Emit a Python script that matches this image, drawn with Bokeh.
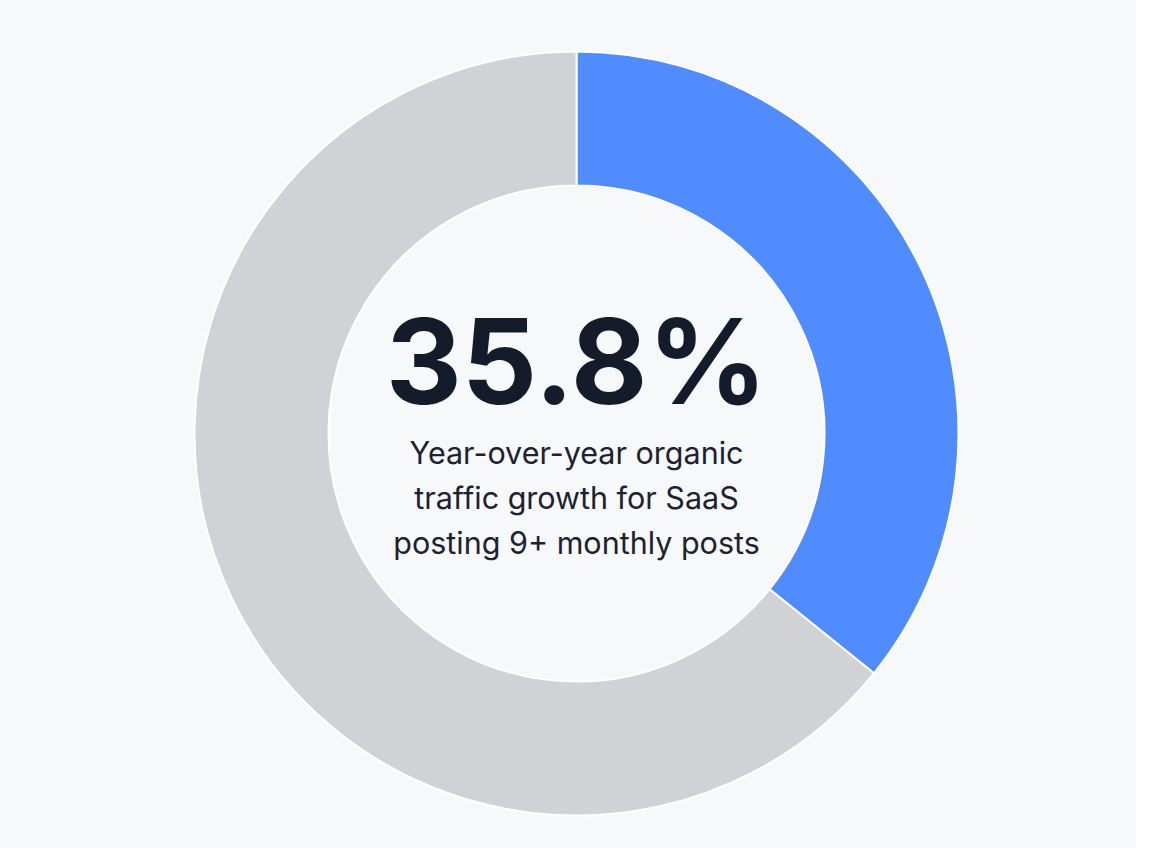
import math
from bokeh.plotting import figure
from bokeh.models import ColumnDataSource, Range1d
from bokeh.core.properties import value
from bokeh.embed import file_html
from bokeh.resources import INLINE

# Data
labels = ["SaaS posting 9+ monthly posts", "Remainder"]
values = [35.8, 64.2]
colors = ["#518cff", "#d1d2d6"]
headline = "35.8%"
caption_lines = ["Year-over-year organic", "traffic growth for SaaS", "posting 9+ monthly posts"]

W, H = 1136, 848
BG = "#f7f8fa"

total = sum(values)
starts, ends = [], []
acc = 0.0
for v in values:
    starts.append(math.pi / 2 - 2 * math.pi * acc / total)
    acc += v
    ends.append(math.pi / 2 - 2 * math.pi * acc / total)

cx, cy = 576, H - 433
src = ColumnDataSource(dict(x=[cx] * len(values), y=[cy] * len(values),
                            start=starts, end=ends, color=colors, label=labels))

p = figure(width=W, height=H, output_backend="svg", toolbar_location=None,
           x_range=Range1d(0, W), y_range=Range1d(0, H), min_border=0,
           background_fill_color=BG, border_fill_color=BG, outline_line_color=None)
p.axis.visible = False
p.grid.visible = False

p.annular_wedge(x="x", y="y", inner_radius=248, outer_radius=382,
                start_angle="start", end_angle="end", direction="clock",
                color="color", line_color="white", line_width=2,
                inner_radius_units="screen", outer_radius_units="screen", source=src)

big = 118
p.text(x=[cx], y=[H - (405 - 0.375 * big)], text=[headline], text_align="center",
       text_baseline="alphabetic", text_font=value("Inter"), text_font_style="bold",
       text_font_size=f"{big}px", text_color="#141b2b")

small = 30.5
cap_y = [H - (b - 0.345 * small) for b in (463, 508, 553)]
p.text(x=[cx] * 3, y=cap_y, text=caption_lines, text_align="center",
       text_baseline="alphabetic", text_font=value("Inter"),
       text_font_size=f"{small}px", text_color="#1c2232")

open("out.html", "w").write(file_html(p, INLINE))
